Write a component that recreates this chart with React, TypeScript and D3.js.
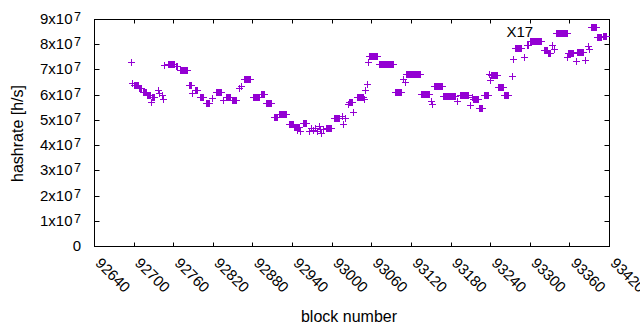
import React from "react";
import * as d3 from "d3";

// Runs of consecutive blocks sharing one hashrate reading (value in units of 1e7 h/s)
const runStart = [
  92696, 92698, 92701, 92708, 92714, 92720, 92726, 92728, 92737, 92738, 92743, 92744, 92746,
  92752, 92764, 92770, 92784, 92788, 92793, 92801, 92810, 92819, 92825, 92835, 92840, 92849,
  92860, 92863, 92867, 92881, 92893, 92901, 92913, 92920, 92935, 92943, 92947, 92948, 92952,
  92957, 92966, 92969, 92972, 92975, 92978, 92981, 92982, 92984, 92987, 92991, 93004, 93016,
  93017, 93020, 93024, 93026, 93033, 93038, 93049, 93050, 93053, 93055, 93056, 93072, 93096,
  93108, 93111, 93113, 93135, 93150, 93152, 93155, 93169, 93190, 93194, 93210, 93213, 93214,
  93223, 93231, 93238, 93240, 93242, 93252, 93261, 93273, 93275, 93278, 93291, 93296, 93300,
  93322, 93328, 93334, 93336, 93340, 93357, 93358, 93370, 93372, 93384, 93388, 93389, 93393,
  93402, 93411,
];
const runEnd = [
  92696, 92698, 92707, 92711, 92719, 92725, 92726, 92731, 92737, 92738, 92743, 92744, 92746,
  92761, 92766, 92781, 92787, 92788, 92796, 92805, 92814, 92819, 92832, 92835, 92846, 92855,
  92860, 92863, 92876, 92890, 92897, 92908, 92917, 92931, 92941, 92946, 92947, 92951, 92952,
  92961, 92966, 92969, 92972, 92975, 92978, 92981, 92982, 92984, 92987, 92999, 93011, 93016,
  93017, 93020, 93024, 93031, 93033, 93047, 93049, 93050, 93053, 93055, 93069, 93093, 93105,
  93108, 93111, 93134, 93147, 93150, 93152, 93167, 93187, 93190, 93207, 93210, 93213, 93222,
  93228, 93236, 93238, 93240, 93250, 93259, 93267, 93273, 93275, 93287, 93291, 93297, 93317,
  93326, 93331, 93334, 93336, 93356, 93357, 93366, 93370, 93381, 93384, 93388, 93389, 93400,
  93408, 93416,
];
const runValue = [
  7.31, 6.46, 6.38, 6.26, 6.11, 5.99, 5.72, 5.89, 6.2, 6.05, 6.0, 5.83, 7.16,
  7.2, 7.12, 6.98, 6.38, 6.05, 6.2, 5.89, 5.67, 5.86, 6.11, 5.79, 5.89, 5.77,
  6.26, 6.34, 6.61, 5.89, 6.01, 5.66, 5.13, 5.22, 4.82, 4.7, 4.58, 4.7, 4.56,
  4.87, 4.56, 4.66, 4.6, 4.68, 4.54, 4.74, 4.64, 4.5, 4.62, 4.68, 5.09, 5.15,
  4.83, 5.09, 5.62, 5.69, 5.3, 5.92, 5.83, 6.19, 6.41, 7.3, 7.55, 7.2, 6.11,
  6.62, 6.5, 6.81, 6.01, 5.73, 5.63, 6.36, 5.94, 5.73, 6.0, 5.59, 5.92, 5.83,
  5.46, 5.97, 6.81, 6.58, 6.77, 6.32, 5.97, 6.75, 7.41, 7.84, 7.5, 7.97, 8.12,
  7.78, 7.67, 7.97, 7.83, 8.45, 7.48, 7.64, 7.35, 7.69, 7.36, 7.93, 7.81, 8.67,
  8.27, 8.34,
];

const xTicks = [92640, 92700, 92760, 92820, 92880, 92940, 93000, 93060, 93120, 93180, 93240, 93300, 93360, 93420];
const yTicks = [0, 1, 2, 3, 4, 5, 6, 7, 8, 9]; // x10^7
const labelText = "X17";
const labelBlock = 93264;
const labelValue = 8.5e7;

const FONT = "'Liberation Sans', Arial, sans-serif";
const COLOR = "#9400d3";

export default function App() {
  const W = 640, H = 330;
  const L = 94.5, R = 609.5, T = 19.5, B = 246.5;
  const x = d3.scaleLinear().domain([92640, 93420]).range([L, R]);
  const y = d3.scaleLinear().domain([0, 9e7]).range([B, T]);
  const snap = (v: number) => Math.round(v - 0.5) + 0.5;

  const points: [number, number][] = [];
  runStart.forEach((s, i) => {
    for (let b = s; b <= runEnd[i]; b++) points.push([b, runValue[i] * 1e7]);
  });
  const markPath = points
    .map(([b, v]) => {
      const cx = snap(x(b));
      const cy = snap(y(v));
      return `M${cx - 3.5},${cy}H${cx + 3.5}M${cx},${cy - 3.5}V${cy + 3.5}`;
    })
    .join("");

  const tickPath =
    xTicks.map((t) => { const px = snap(x(t)); return `M${px},${B}V${B - 4}M${px},${T}V${T + 4}`; }).join("") +
    yTicks.map((t) => { const py = snap(y(t * 1e7)); return `M${L},${py}H${L + 5}M${R},${py}H${R - 5}`; }).join("");

  return (
    <svg width={W} height={H} style={{ position: "fixed", left: 0, top: 0, background: "#fff" }} fontFamily={FONT}>
      <rect x={0} y={0} width={W} height={H} fill="#fff" />
      <path d={tickPath} stroke="#000" strokeWidth={1} fill="none" />
      <rect x={L} y={T} width={R - L} height={B - T} fill="none" stroke="#000" strokeWidth={1} />
      {yTicks.map((t) => (
        <text key={t} x={81} y={y(t * 1e7) + 4.5} textAnchor="end" fontSize={15} fill="#000">
          {t === 0 ? "0" : (
            <>
              {`${t}x10`}
              <tspan fontSize={12.5} dx={1.5} dy={-3}>7</tspan>
            </>
          )}
        </text>
      ))}
      {xTicks.map((t) => (
        <text key={t} transform={`translate(${x(t)},264) rotate(45)`} fontSize={15} fill="#000">
          {t}
        </text>
      ))}
      <text transform="translate(22.5,133.5) rotate(-90)" textAnchor="middle" fontSize={16} fill="#000">
        hashrate [h/s]
      </text>
      <text x={349} y={321.5} textAnchor="middle" fontSize={16} fill="#000">
        block number
      </text>
      <path d={markPath} stroke={COLOR} strokeWidth={1} fill="none" />
      <text x={x(labelBlock)} y={y(labelValue)} dy="0.35em" fontSize={15} fill="#000">
        {labelText}
      </text>
    </svg>
  );
}
